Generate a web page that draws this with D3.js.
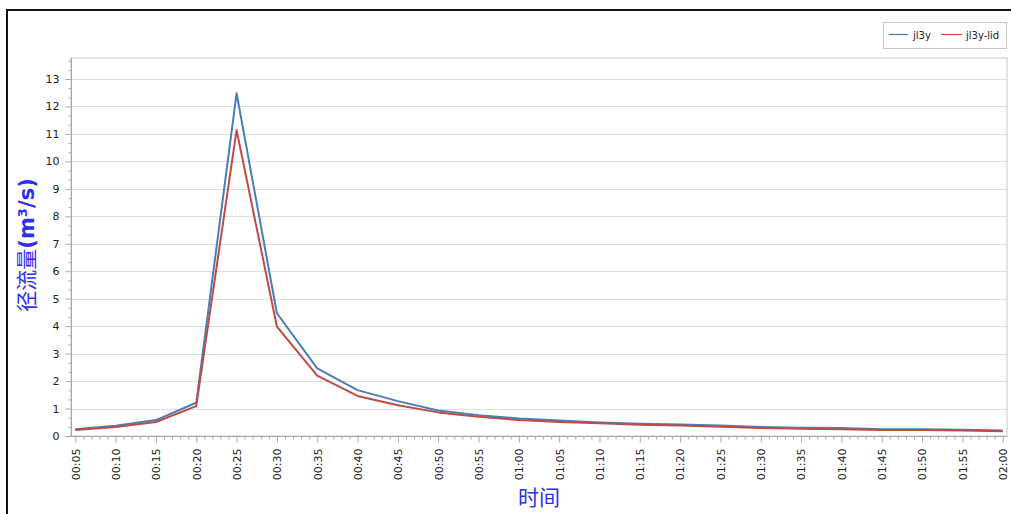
<!DOCTYPE html>
<html>
<head>
<meta charset="utf-8">
<script src="https://cdn.jsdelivr.net/npm/d3@7"></script>
<style>
  html, body { margin: 0; padding: 0; background: #fff; }
  svg { display: block; }
</style>
</head>
<body>
<svg id="chart" width="1011" height="514"></svg>
<script>
// ---- data ----
const timeLabels = ["00:05","00:10","00:15","00:20","00:25","00:30","00:35","00:40","00:45","00:50","00:55","01:00",
                    "01:05","01:10","01:15","01:20","01:25","01:30","01:35","01:40","01:45","01:50","01:55","02:00"];
const jl3y    = [0.25, 0.37, 0.58, 1.21, 12.48, 4.47, 2.46, 1.67, 1.27, 0.93, 0.76, 0.64,
                 0.56, 0.49, 0.45, 0.42, 0.38, 0.33, 0.30, 0.29, 0.25, 0.25, 0.23, 0.20];
const jl3yLid = [0.22, 0.33, 0.51, 1.09, 11.14, 3.98, 2.20, 1.46, 1.12, 0.86, 0.70, 0.58,
                 0.51, 0.46, 0.41, 0.38, 0.34, 0.29, 0.26, 0.25, 0.22, 0.22, 0.20, 0.17];
const seriesNames = ["jl3y", "jl3y-lid"];
const yTicks = [0,1,2,3,4,5,6,7,8,9,10,11,12,13];

// ---- helpers ----
const toMin = s => { const [h, m] = s.split(":").map(Number); return h * 60 + m; };
const minutes = timeLabels.map(toMin);

const svg = d3.select("#chart");
const W = 1011, H = 514;
const plot = { left: 71, top: 58, right: 1007, bottom: 436 };

// outer frame
svg.append("rect").attr("x", 7).attr("y", 10).attr("width", W + 20).attr("height", H + 20)
  .attr("fill", "none").attr("stroke", "#111").attr("stroke-width", 2);

const x = d3.scaleLinear().domain([5, 120]).range([75.3, 1002.7]);
const y = d3.scaleLinear().domain([0, 13]).range([436, 79]);

// plot area
svg.append("rect").attr("x", plot.left).attr("y", plot.top)
  .attr("width", plot.right - plot.left).attr("height", plot.bottom - plot.top)
  .attr("fill", "#fff").attr("stroke", "#c8c8c8").attr("stroke-width", 1);

// gridlines
svg.append("g").selectAll("line").data(yTicks.filter(d => d > 0)).join("line")
  .attr("x1", plot.left).attr("x2", plot.right)
  .attr("y1", d => Math.round(y(d)) + 0.5).attr("y2", d => Math.round(y(d)) + 0.5)
  .attr("stroke", "#dedede").attr("stroke-width", 1);

const font = "'DejaVu Sans', Verdana, sans-serif";

// y axis minor ticks
const yMinor = d3.range(0, 13.76, 1/3).filter(v => Math.abs(v - Math.round(v)) > 1e-6);
const yMinorAxis = d3.axisLeft(y).tickValues(yMinor).tickSize(3).tickFormat("");
svg.append("g").attr("transform", `translate(${plot.left + 0.5},0)`).call(yMinorAxis)
  .call(g => g.select(".domain").remove())
  .call(g => g.selectAll("line").attr("stroke", "#a8a8a8"));

// y axis major
const yAxis = d3.axisLeft(y).tickValues(yTicks).tickSize(6).tickPadding(6).tickFormat(d3.format("d"));
svg.append("g").attr("transform", `translate(${plot.left + 0.5},0)`).call(yAxis)
  .call(g => g.select(".domain").attr("d", `M0,${plot.top}V${plot.bottom}`).attr("stroke", "#a8a8a8"))
  .call(g => g.selectAll("line").attr("stroke", "#a8a8a8"))
  .call(g => g.selectAll("text").attr("font-family", font).attr("font-size", 11).attr("fill", "#222"));

// x axis minor ticks
const xMinor = d3.range(5, 121, 1).filter(v => v % 5 !== 0);
svg.append("g").attr("transform", `translate(0,${plot.bottom + 0.5})`)
  .call(d3.axisBottom(x).tickValues(xMinor).tickSize(3).tickFormat(""))
  .call(g => g.select(".domain").remove())
  .call(g => g.selectAll("line").attr("stroke", "#a8a8a8"));

// x axis major
const xAxis = d3.axisBottom(x).tickValues(minutes).tickSize(6)
  .tickFormat((d, i) => timeLabels[i]);
svg.append("g").attr("transform", `translate(0,${plot.bottom + 0.5})`).call(xAxis)
  .call(g => g.select(".domain").attr("d", `M${plot.left},0H${plot.right}`).attr("stroke", "#a8a8a8"))
  .call(g => g.selectAll("line").attr("stroke", "#a8a8a8"))
  .call(g => g.selectAll("text")
    .attr("font-family", font).attr("font-size", 11).attr("fill", "#222")
    .attr("text-anchor", "end").attr("transform", "rotate(-90)")
    .attr("x", -12).attr("y", 0).attr("dy", "0.35em"));

// lines
const line = d3.line().x((d, i) => x(minutes[i])).y(d => y(d));
const colors = ["#4a7ebb", "#be4b48"];
[jl3y, jl3yLid].forEach((s, k) => {
  svg.append("path").datum(s).attr("d", line)
    .attr("fill", "none").attr("stroke", colors[k]).attr("stroke-width", 2)
    .attr("stroke-linejoin", "round");
});

// legend
const lg = svg.append("g");
lg.append("rect").attr("x", 883.5).attr("y", 22.5).attr("width", 123).attr("height", 26)
  .attr("fill", "#fff").attr("stroke", "#c8c8c8");
const legendItems = [{ x1: 889, x2: 908, tx: 913 }, { x1: 941, x2: 962, tx: 966 }];
legendItems.forEach((it, k) => {
  lg.append("line").attr("x1", it.x1).attr("x2", it.x2).attr("y1", 34.5).attr("y2", 34.5)
    .attr("stroke", colors[k]).attr("stroke-width", 1.2);
  lg.append("text").attr("x", it.tx).attr("y", 38.5).text(seriesNames[k])
    .attr("font-family", font).attr("font-size", 10).attr("fill", "#222");
});

// axis titles
const titleColor = "#2f2ff0";
const yt = svg.append("text")
  .attr("transform", "translate(34,245) rotate(-90)")
  .attr("text-anchor", "middle")
  .attr("font-family", "'DejaVu Sans', 'Noto Sans CJK SC', sans-serif")
  .attr("font-size", 21).attr("fill", titleColor);
yt.append("tspan").attr("font-family", "'Noto Sans CJK SC', sans-serif").text("径流量");
yt.append("tspan").attr("font-weight", "bold").text("(m³/s)");

svg.append("text").attr("x", 539).attr("y", 505).attr("text-anchor", "middle")
  .attr("font-family", "'Noto Sans CJK SC', sans-serif").attr("font-size", 21)
  .attr("fill", titleColor).text("时间");
</script>
</body>
</html>
